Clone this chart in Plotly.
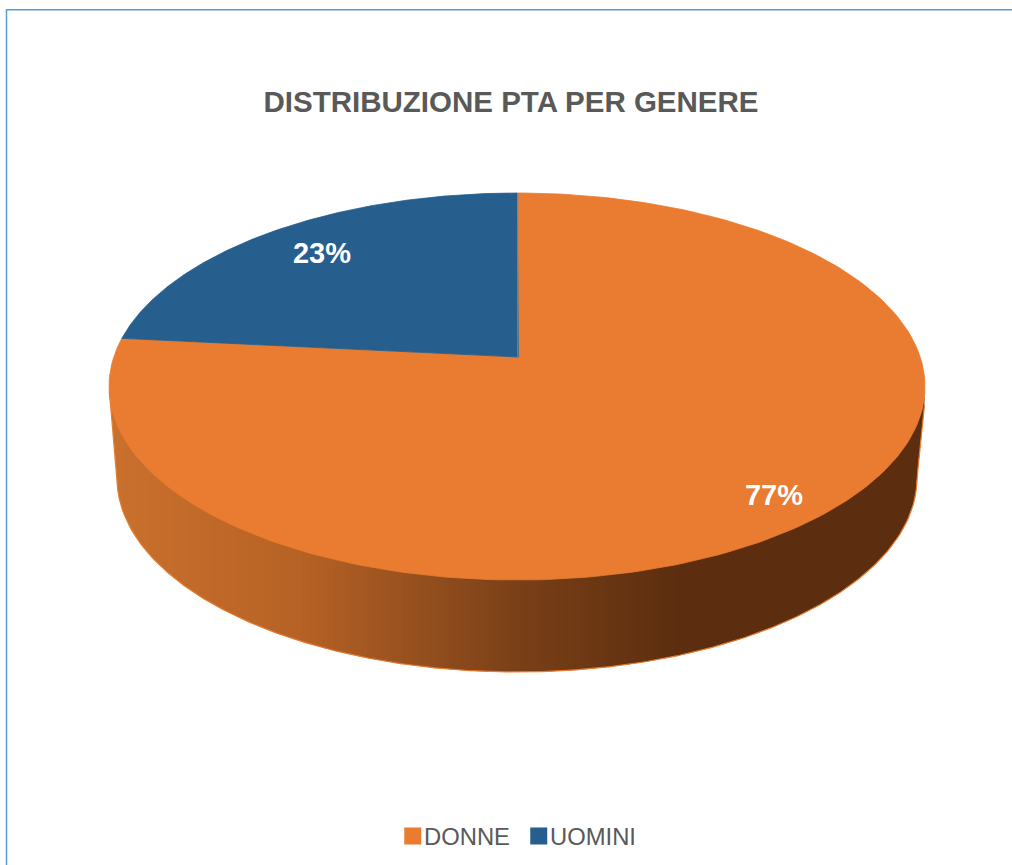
import numpy as np
import plotly.graph_objects as go

TITLE = "DISTRIBUZIONE PTA PER GENERE"
categories = ["DONNE", "UOMINI"]
values = [76.6, 23.4]
colors = ["#E97C30", "#265E8E"]
label_text = ["77%", "23%"]

W, H = 1012, 865
APEX = (518.5, 357.0)
TOP_Y, BOTTOM_Y, RX = 193.0, 580.0, 408.0
up, down = APEX[1] - TOP_Y, BOTTOM_Y - APEX[1]
D = (up + down) / (down - up)
A = up * (1 + D)
C = RX * np.sqrt(D * D - 1)
TCX, TCY, TRY = 517.0, 386.5, 193.5
BCX, BCY, BRX, BRY = 517.0, 478.0, 400.0, 194.0


def project(theta):
    """Angle clockwise from 12 o'clock, in degrees, to the tilted pie top."""
    t = np.radians(theta)
    u, v = np.sin(t), np.cos(t)
    return TCX + C * u / (v + D), APEX[1] - A * v / (v + D)


def wedge(start, end):
    th = np.linspace(start, end, 240)
    x, y = project(th)
    return np.r_[APEX[0], x, APEX[0]], np.r_[APEX[1], y, APEX[1]]


fig = go.Figure()

# side wall
stop_x = [110, 300, 400, 518, 680, 925]
stop_c = [(203, 113, 46), (183, 98, 38), (155, 83, 32), (122, 64, 24), (92, 46, 15), (92, 46, 15)]


def lower(x):
    inside = np.clip((x - BCX) / BRX, -1, 1)
    y = BCY + BRY * np.sqrt(1 - inside**2)
    y = np.where(x < BCX - BRX, np.interp(x, [109.5, BCX - BRX], [392, BCY]), y)
    y = np.where(x > BCX + BRX, np.interp(x, [BCX + BRX, 924.5], [BCY, 405]), y)
    return y


def upper(x):
    inside = np.clip((x - TCX) / RX, -1, 1)
    return TCY + TRY * np.sqrt(1 - inside**2)


edges = np.arange(109, 926, 2.0)
for a, b in zip(edges[:-1], edges[1:]):
    xs = np.linspace(a, min(b + 0.8, 925), 4)
    mid = (a + b) / 2
    rgb = [int(np.interp(mid, stop_x, [c[i] for c in stop_c])) for i in range(3)]
    yt = TCY + (upper(xs) - TCY) * 0.96
    yb = np.maximum(lower(xs), yt)
    fig.add_trace(go.Scatter(
        x=np.r_[xs, xs[::-1]], y=np.r_[yt, yb[::-1]], mode="lines", fill="toself",
        fillcolor=f"rgb({rgb[0]},{rgb[1]},{rgb[2]})", line=dict(width=0),
        showlegend=False, hoverinfo="skip"))

xe = np.linspace(109.5, 924.5, 500)
fig.add_trace(go.Scatter(x=xe, y=lower(xe), mode="lines",
                         line=dict(color="#E97C30", width=1.2), showlegend=False, hoverinfo="skip"))

# pie top
angle = 0.0
for name, val, col in zip(categories, values, colors):
    sweep = 360.0 * val / sum(values)
    x, y = wedge(angle, angle + sweep)
    fig.add_trace(go.Scatter(x=x, y=y, mode="lines", fill="toself", fillcolor=col,
                             line=dict(color=col, width=0.8), name=name, showlegend=False,
                             hoverinfo="name"))
    angle += sweep

fig.add_trace(go.Scatter(x=[517.8, 517.8], y=[APEX[1], TOP_Y], mode="lines",
                         line=dict(color="#8a8a8a", width=1.0), showlegend=False, hoverinfo="skip"))

# data labels
fig.add_trace(go.Scatter(x=[774, 322], y=[498, 255.5], mode="text", text=label_text,
                         textfont=dict(family="Liberation Sans", size=29, color="white", weight="bold"),
                         textposition="middle center", showlegend=False, hoverinfo="skip"))

# legend, laid out as in the reference: swatch tight against its text
legend_swatch_x = [404.5, 530.5]
SW = 16.5
LEG_Y = 836.0
shapes = [
    dict(type="line", xref="x", yref="y", x0=6.5, x1=6.5, y0=9, y1=H, line=dict(color="#5B9BD5", width=1.5)),
    dict(type="line", xref="x", yref="y", x0=6, x1=W, y0=9.8, y1=9.8, line=dict(color="#5B9BD5", width=1.5)),
]
annotations = []
for name, col, sx in zip(categories, colors, legend_swatch_x):
    shapes.append(dict(type="rect", xref="x", yref="y", x0=sx, x1=sx + SW,
                       y0=LEG_Y - SW / 2, y1=LEG_Y + SW / 2, fillcolor=col, line=dict(color=col, width=0.5)))
    annotations.append(dict(x=sx + SW + 2, y=LEG_Y, xref="x", yref="y", text=name, showarrow=False,
                            xanchor="left", yanchor="middle", xshift=-1, yshift=0,
                            font=dict(family="Liberation Sans", size=23.8, color="#595959")))

fig.update_layout(
    width=W, height=H, autosize=False,
    margin=dict(l=0, r=0, t=0, b=0),
    paper_bgcolor="white", plot_bgcolor="white",
    showlegend=False,
    xaxis=dict(range=[0, W], visible=False, fixedrange=True),
    yaxis=dict(range=[H, 0], visible=False, fixedrange=True),
    title=dict(text=f"<b>{TITLE}</b>", x=511 / W, xanchor="center", y=1 - 102 / H, yanchor="middle",
               font=dict(family="Liberation Sans", size=29.5, color="#595959")),
    shapes=shapes, annotations=annotations,
)
fig.write_html("out.html", config={"displayModeBar": False},
               post_script="document.body.style.margin='0';")
